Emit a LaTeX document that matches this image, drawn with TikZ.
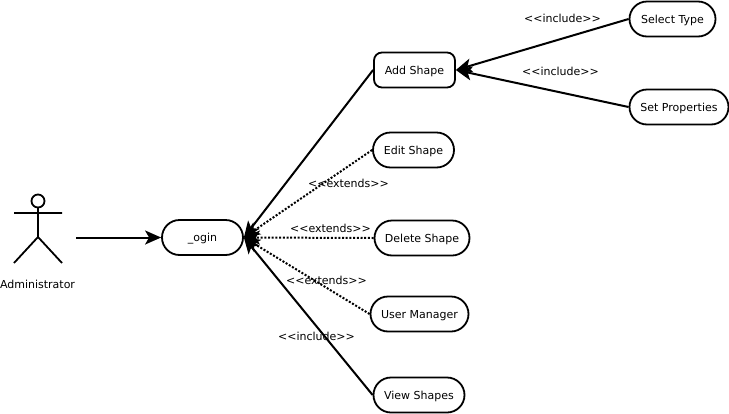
\documentclass[tikz,border=0pt]{standalone}
\usepackage{fontspec}
\setmainfont{DejaVu Sans}
\usetikzlibrary{arrows.meta}
\tikzset{
  x=1pt,y=-1pt,
  every node/.style={font=\fontsize{11}{13}\selectfont},
  usecase/.style={draw=black,line width=1.8pt,fill=white,rounded corners=17.5pt,minimum height=35pt,inner sep=0pt,anchor=center,text height=8.5pt,text depth=0pt},
  squarecase/.style={usecase,rounded corners=8pt},
  solidlink/.style={line width=2pt,-{Stealth[length=16pt,width=14pt,inset=4pt]}},
  dotlink/.style={line width=2pt,dash pattern=on 2pt off 1.7pt,-{Stealth[length=16pt,width=14pt,inset=4pt]}},
  actorline/.style={line width=1.8pt},
  lbl/.style={inner sep=0pt,anchor=center}
}
\begin{document}
\begin{tikzpicture}
\useasboundingbox (0,0) rectangle (729,413);
% actor
\draw[actorline] (38,201) circle (6.5);
\coordinate (neck) at (38,207.5);
\coordinate (hip) at (38,237);
\coordinate (armL) at (14,213);
\coordinate (armR) at (62,213);
\coordinate (legL) at (14,263);
\coordinate (legR) at (62,263);
\coordinate (actorout) at (76,237.5);
\draw[actorline] (neck) -- (hip) (armL) -- (armR) (legL) -- (hip) -- (legR);
\node[lbl] (admin) at (37.5,284) {Administrator};
% use cases
\node[usecase,minimum width=81pt] (login) at (202.5,237.5) {\_ogin};
\node[squarecase,minimum width=81pt] (add) at (414.5,70) {Add Shape};
\node[usecase,minimum width=86pt] (select) at (672.5,19) {Select Type};
\node[usecase,minimum width=99pt] (props) at (679,107) {Set Properties};
\node[usecase,minimum width=81pt] (edit) at (413.5,150) {Edit Shape};
\node[usecase,minimum width=95pt] (delete) at (422,238) {Delete Shape};
\node[usecase,minimum width=98pt] (user) at (419.5,314) {User Manager};
\node[usecase,minimum width=91pt] (view) at (419,395) {View Shapes};
% connectors
\draw[solidlink] (actorout) -- (login.west);
\draw[solidlink] (add.west) -- (login.east);
\draw[solidlink] (view.west) -- (login.east);
\draw[dotlink] (edit.west) -- (login.east);
\draw[dotlink] (delete.west) -- (login.east);
\draw[dotlink] (user.west) -- (login.east);
\draw[solidlink] (select.west) -- (add.east);
\draw[solidlink] (props.west) -- (add.east);
% labels
\node[lbl] (l1) at (562.5,18) {<{}<include>{}>};
\node[lbl] (l2) at (560.5,71) {<{}<include>{}>};
\node[lbl] (l3) at (348.5,183) {<{}<extends>{}>};
\node[lbl] (l4) at (330.5,228) {<{}<extends>{}>};
\node[lbl] (l5) at (326.5,280) {<{}<extends>{}>};
\node[lbl] (l6) at (316.5,336) {<{}<include>{}>};
\end{tikzpicture}
\end{document}
